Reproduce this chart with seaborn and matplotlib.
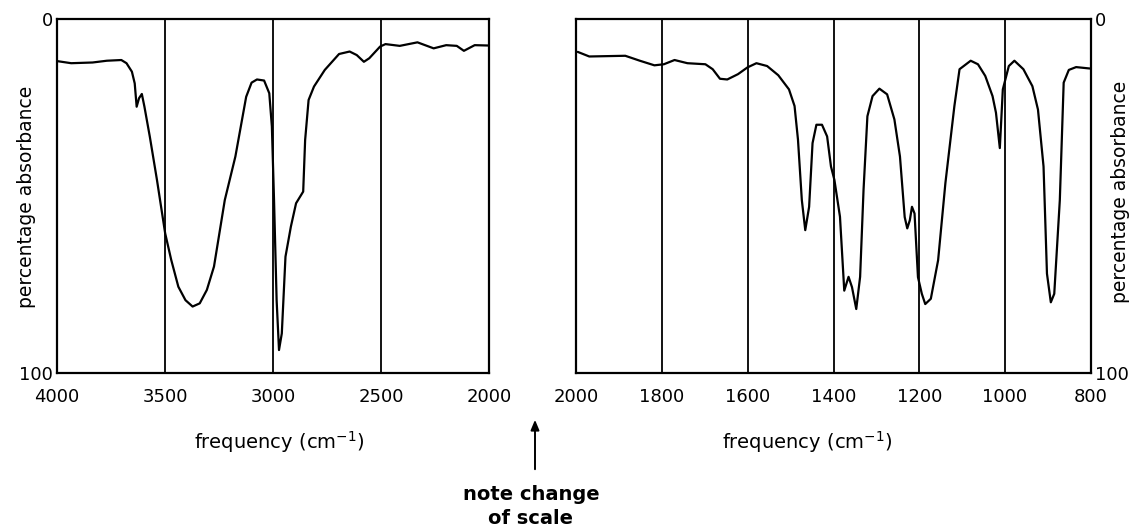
import numpy as np
import pandas as pd
import seaborn as sns
from matplotlib import pyplot as plt
from matplotlib.patches import FancyArrowPatch

freq_high = [4000, 3934, 3835, 3769, 3702, 3678, 3653, 3640, 3631, 3620, 3607, 3595,
             3570, 3537, 3499, 3471, 3438, 3405, 3372, 3339, 3306, 3273, 3223, 3174,
             3124, 3099, 3074, 3041, 3017, 3005, 2995, 2983, 2972, 2959, 2942, 2917,
             2893, 2860, 2851, 2835, 2810, 2760, 2694, 2645, 2612, 2579, 2554, 2504,
             2479, 2413, 2331, 2256, 2198, 2149, 2116, 2066, 2003]
abs_high = [11.9, 12.5, 12.3, 11.8, 11.6, 12.5, 14.9, 18.2, 24.8, 22.4, 21.2, 24.8,
            33.3, 45.5, 60.6, 68.1, 75.7, 79.5, 81.3, 80.4, 76.6, 70.0, 51.2, 38.9,
            22.0, 18.0, 17.1, 17.4, 21.0, 30.4, 51.2, 79.5, 93.6, 88.9, 67.2, 58.7,
            52.1, 48.8, 34.2, 22.9, 19.1, 14.4, 9.9, 9.2, 10.2, 12.1, 11.1, 7.8,
            7.1, 7.6, 6.6, 8.3, 7.4, 7.6, 9.0, 7.4, 7.5]

# low frequency region
freq_low = [1997, 1970, 1886, 1852, 1818, 1796, 1771, 1741, 1699, 1682, 1665, 1648,
            1623, 1601, 1580, 1555, 1529, 1504, 1491, 1483, 1474, 1466, 1457, 1449,
            1440, 1427, 1415, 1406, 1398, 1385, 1375, 1365, 1357, 1347, 1338, 1330,
            1321, 1309, 1293, 1275, 1258, 1245, 1234, 1228, 1222, 1217, 1211, 1203,
            1194, 1186, 1173, 1156, 1139, 1118, 1106, 1080, 1063, 1046, 1029, 1021,
            1012, 1005, 991, 978, 957, 936, 923, 910, 902, 893, 885, 872, 863, 851,
            834, 802]
abs_low = [9.3, 10.6, 10.4, 11.8, 13.1, 12.8, 11.6, 12.5, 12.8, 14.2, 16.9, 17.1,
           15.6, 13.7, 12.5, 13.3, 15.9, 19.9, 24.6, 34.1, 51.2, 59.7, 53.1, 35.1,
           29.9, 29.9, 33.2, 41.7, 45.5, 55.9, 76.8, 72.9, 75.8, 82.0, 72.9, 48.3,
           27.5, 21.8, 19.7, 21.3, 28.4, 38.9, 56.0, 59.2, 56.9, 53.1, 55.0, 73.0,
           77.7, 80.6, 79.1, 68.2, 46.4, 24.6, 14.2, 11.8, 12.8, 16.1, 21.8, 26.5,
           36.5, 19.9, 13.3, 11.8, 14.2, 19.0, 25.6, 41.7, 72.0, 80.1, 77.7, 51.2,
           18.0, 14.4, 13.6, 14.0]

ticks_high = [4000, 3500, 3000, 2500, 2000]
ticks_low = [2000, 1800, 1600, 1400, 1200, 1000, 800]
y_ticks = [0, 100]

df_high = pd.DataFrame({"freq": freq_high, "absorb": abs_high})
df_low = pd.DataFrame({"freq": freq_low, "absorb": abs_low})

sns.set_style("white")
plt.rcParams["font.family"] = ["DejaVu Sans"]
plt.rcParams["text.color"] = "black"
plt.rcParams["xtick.color"] = "black"
plt.rcParams["ytick.color"] = "black"

fig = plt.figure(figsize=(11.3, 5.29), dpi=100)
ax1 = fig.add_axes([0.0504, 0.2955, 0.3823, 0.6686])
ax2 = fig.add_axes([0.5101, 0.2955, 0.4551, 0.6686])

for ax, d, xt in [(ax1, df_high, ticks_high), (ax2, df_low, ticks_low)]:
    sns.lineplot(data=d, x="freq", y="absorb", ax=ax, color="black",
                 lw=1.6, sort=False, estimator=None)
    ax.set_xlim(xt[0], xt[-1])
    ax.set_ylim(100, 0)
    ax.set_xticks(xt)
    ax.set_yticks(y_ticks)
    ax.tick_params(length=0, labelsize=13)
    ax.tick_params(axis="x", pad=11)
    ax.tick_params(axis="y", pad=3)
    ax.xaxis.grid(True, color="black", lw=1.3)
    for s in ax.spines.values():
        s.set_color("black")
        s.set_linewidth(1.6)
    ax.set_xlabel("")
    ax.set_ylabel("")

ax2.yaxis.tick_right()

# y labels on both outer sides
fig.text(27 / 1130, 1 - 197 / 529, "percentage absorbance", fontsize=13.5,
         rotation=90, ha="center", va="center")
fig.text(1120 / 1130, 1 - 192 / 529, "percentage absorbance", fontsize=13.5,
         rotation=90, ha="center", va="center")

fig.text(279 / 1130, 1 - 442 / 529, "frequency (cm$^{-1}$)", fontsize=14,
         ha="center", va="center")
fig.text(807 / 1130, 1 - 442 / 529, "frequency (cm$^{-1}$)", fontsize=14,
         ha="center", va="center")

fig.text(531 / 1130, 1 - 494 / 529, "note change", fontsize=14, fontweight="bold",
         ha="center", va="center")
fig.text(530 / 1130, 1 - 518 / 529, "of scale", fontsize=14, fontweight="bold",
         ha="center", va="center")
fig.patches.append(FancyArrowPatch(
    (535 / 1130, 1 - 472 / 529), (535 / 1130, 1 - 417 / 529),
    transform=fig.transFigure, arrowstyle="-|>,head_length=6,head_width=2.5",
    color="black", lw=1.4))

fig.savefig("out.png", dpi=100)
